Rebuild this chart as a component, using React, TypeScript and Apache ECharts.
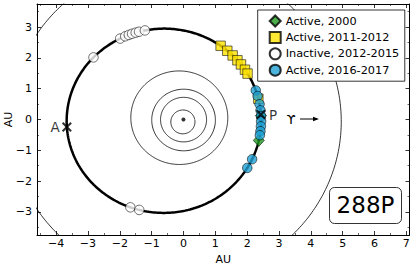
import React, { useEffect, useRef } from "react";
import * as echarts from "echarts";

// ---- axes ----
const xRange = [-4.6, 7.1];
const yRange = [-3.75, 3.75];
const xMajorTicks = [-4, -3, -2, -1, 0, 1, 2, 3, 4, 5, 6, 7];
const xMinorTicks = [-4.5, -3.5, -2.5, -1.5, -0.5, 0.5, 1.5, 2.5, 3.5, 4.5, 5.5, 6.5];
const yMajorTicks = [-3, -2, -1, 0, 1, 2, 3];
const yMinorTicks = [-3.5, -2.5, -1.5, -0.5, 0.5, 1.5, 2.5, 3.5];
const axisTitle = "AU";

// ---- planet orbits (semi-major axis AU, eccentricity, longitude of perihelion deg) ----
const planetNames = ["Mercury", "Venus", "Earth", "Mars", "Jupiter"];
const planetA = [0.387, 0.723, 1.0, 1.524, 5.203];
const planetE = [0.2056, 0.0068, 0.0167, 0.0934, 0.0489];
const planetVarpi = [77.46, 131.6, 102.9, 336.0, 14.75];

// ---- comet 288P orbit ----
const cometA = 3.054;
const cometE = 0.2017;
const cometVarpi = 3.8;

// ---- observation heliocentric longitudes (deg) ----
const active2000Lon = [3, -16];
const active2011Lon = [64, 58.3, 53.4, 48.6, 44.7, 39.9, 36.5, 16];
const inactiveLon = [144.5, 127.1, 124.1, 122.0, 120.1, 118.0, 116.1, 112.7, 239.7, 244.7];
const active2016Lon = [22.6, 18.1, 11.8, 7.0, 2.6, -1.4, -5.2, -8.9, -12.0, -30.9, -38.1];

const seriesNames = ["Active, 2000", "Active, 2011-2012", "Inactive, 2012-2015", "Active, 2016-2017"];

const FONT = "DejaVu Sans";

function radius(a: number, e: number, varpi: number, lonDeg: number) {
  const d = ((lonDeg - varpi) * Math.PI) / 180;
  return (a * (1 - e * e)) / (1 + e * Math.cos(d));
}
function posAt(a: number, e: number, varpi: number, lonDeg: number): [number, number] {
  const r = radius(a, e, varpi, lonDeg);
  const t = (lonDeg * Math.PI) / 180;
  return [r * Math.cos(t), r * Math.sin(t)];
}
function orbit(a: number, e: number, varpi: number) {
  const pts: [number, number][] = [];
  for (let l = 0; l <= 360; l += 1) pts.push(posAt(a, e, varpi, l));
  return pts;
}
const comet = (l: number) => posAt(cometA, cometE, cometVarpi, l);

const xSymbol =
  "path://M0,1.5L1.5,0L5,3.5L8.5,0L10,1.5L6.5,5L10,8.5L8.5,10L5,6.5L1.5,10L0,8.5L3.5,5Z";

const fmt = (v: number) => String(v).replace("-", "\u2212");

export default function App() {
  const ref = useRef<HTMLDivElement>(null);
  useEffect(() => {
    if (!ref.current) return;
    const chart = echarts.init(ref.current, undefined, { renderer: "svg" });

    const axisBase = (pos: string, min: number, max: number) => ({
      type: "value",
      position: pos,
      min,
      max,
      splitLine: { show: false },
      axisLine: { show: false, onZero: false },
      axisLabel: { show: false },
    });
    const major = (vals: number[]) => ({
      show: true,
      inside: true,
      length: 4,
      customValues: vals,
      lineStyle: { color: "#000", width: 0.8 },
    });
    const minor = (vals: number[]) => ({
      show: true,
      inside: true,
      length: 2,
      customValues: vals,
      lineStyle: { color: "#000", width: 0.6 },
    });

    const xAxis = [
      {
        ...axisBase("bottom", xRange[0], xRange[1]),
        axisLine: { show: true, onZero: false, lineStyle: { color: "#000", width: 1 } },
        axisTick: major(xMajorTicks),
        axisLabel: {
          show: true,
          customValues: xMajorTicks,
          formatter: fmt,
          margin: 3,
          color: "#000",
          fontSize: 11,
          fontFamily: FONT,
        },
        name: axisTitle,
        nameLocation: "middle",
        nameGap: 13,
        nameTextStyle: { color: "#000", fontSize: 11, fontFamily: FONT },
      },
      { ...axisBase("bottom", xRange[0], xRange[1]), axisTick: minor(xMinorTicks) },
      {
        ...axisBase("top", xRange[0], xRange[1]),
        axisLine: { show: true, onZero: false, lineStyle: { color: "#000", width: 1 } },
        axisTick: major(xMajorTicks),
      },
      { ...axisBase("top", xRange[0], xRange[1]), axisTick: minor(xMinorTicks) },
    ];
    const yAxis = [
      {
        ...axisBase("left", yRange[0], yRange[1]),
        axisLine: { show: true, onZero: false, lineStyle: { color: "#000", width: 1 } },
        axisTick: major(yMajorTicks),
        axisLabel: {
          show: true,
          customValues: yMajorTicks,
          formatter: fmt,
          margin: 5,
          color: "#000",
          fontSize: 11,
          fontFamily: FONT,
        },
      },
      { ...axisBase("left", yRange[0], yRange[1]), axisTick: minor(yMinorTicks) },
      {
        ...axisBase("right", yRange[0], yRange[1]),
        axisLine: { show: true, onZero: false, lineStyle: { color: "#000", width: 1 } },
        axisTick: major(yMajorTicks),
      },
      { ...axisBase("right", yRange[0], yRange[1]), axisTick: minor(yMinorTicks) },
    ];

    const planetSeries = planetNames.map((n, i) => ({
      name: n,
      type: "line",
      data: orbit(planetA[i], planetE[i], planetVarpi[i]),
      showSymbol: false,
      symbol: "none",
      lineStyle: { color: "#000", width: 0.8 },
      silent: true,
      z: 1,
    }));

    const markerBorder = { borderColor: "#000", borderWidth: 0.7 };

    const option = {
      animation: false,
      grid: {
        left: 37,
        right: 6.5,
        top: 4,
        bottom: 30,
        containLabel: false,
        outerBoundsMode: "none",
      },
      xAxis,
      yAxis,
      legend: {
        data: seriesNames,
        orient: "vertical",
        left: 257.7,
        top: 10,
        padding: [4.5, 5.5, 4.5, 11],
        itemWidth: 11,
        itemHeight: 11,
        itemGap: 3.4,
        borderColor: "#000",
        borderWidth: 0.8,
        backgroundColor: "#fff",
        textStyle: { color: "#000", fontSize: 11.3, fontFamily: FONT, lineHeight: 11 },
      },
      series: [
        ...planetSeries,
        {
          name: "288P orbit",
          type: "line",
          data: orbit(cometA, cometE, cometVarpi),
          showSymbol: false,
          symbol: "none",
          lineStyle: { color: "#000", width: 2.5 },
          z: 2,
        },
        {
          name: "Sun",
          type: "scatter",
          data: [[0, 0]],
          symbol: "circle",
          symbolSize: 4,
          itemStyle: { color: "#000" },
          z: 3,
        },
        {
          name: seriesNames[0],
          type: "scatter",
          data: active2000Lon.map(comet),
          symbol: "diamond",
          symbolSize: [11, 12],
          itemStyle: { color: "#1f9a1f", ...markerBorder },
          z: 4,
        },
        {
          name: seriesNames[1],
          type: "scatter",
          data: active2011Lon.map(comet),
          symbol: "rect",
          symbolSize: 9.5,
          itemStyle: { color: "#ffe400", ...markerBorder },
          z: 5,
        },
        {
          name: seriesNames[2],
          type: "scatter",
          data: inactiveLon.map(comet),
          symbol: "circle",
          symbolSize: 9.5,
          itemStyle: { color: "#fff", ...markerBorder },
          z: 6,
        },
        {
          name: seriesNames[3],
          type: "scatter",
          data: active2016Lon.map(comet),
          symbol: "circle",
          symbolSize: 9.5,
          itemStyle: { color: "#1fa0d3", ...markerBorder },
          z: 7,
        },
        {
          name: "Apsides",
          type: "scatter",
          data: [
            { value: comet(cometVarpi), label: { formatter: "P", position: "right", distance: 3 } },
            { value: comet(cometVarpi + 180), label: { formatter: "A", position: "left", distance: 2 } },
          ],
          symbol: xSymbol,
          symbolSize: 10,
          itemStyle: { color: "#000" },
          label: { show: true, color: "#000", fontSize: 13.5, fontFamily: FONT },
          z: 8,
        },
      ],
      graphic: [
        {
          type: "text",
          x: 8,
          y: 119.5,
          rotation: Math.PI / 2,
          style: {
            text: axisTitle,
            fontSize: 11,
            fontFamily: FONT,
            fill: "#000",
            align: "center",
            verticalAlign: "middle",
          },
        },
        {
          type: "text",
          x: 291,
          y: 119,
          style: {
            text: "\u03D2",
            fontSize: 13,
            fontFamily: FONT,
            fill: "#000",
            align: "center",
            verticalAlign: "middle",
          },
        },
        {
          type: "line",
          shape: { x1: 300, y1: 119, x2: 317, y2: 119 },
          style: { stroke: "#000", lineWidth: 1 },
        },
        {
          type: "polygon",
          shape: { points: [[319, 119], [313, 116.8], [313, 121.2]] },
          style: { fill: "#000" },
        },
        {
          type: "rect",
          shape: { x: 329.5, y: 187.5, width: 72, height: 36, r: 5 },
          style: { fill: "#fff", stroke: "#000", lineWidth: 0.8 },
          z: 10,
        },
        {
          type: "text",
          x: 365.5,
          y: 205,
          style: {
            text: "288P",
            fontSize: 23,
            fontFamily: FONT,
            fill: "#000",
            align: "center",
            verticalAlign: "middle",
          },
          z: 11,
        },
      ],
    };
    chart.setOption(option as any);
    return () => chart.dispose();
  }, []);
  return <div ref={ref} style={{ width: 416, height: 265, position: "absolute", left: 0, top: 0 }} />;
}
